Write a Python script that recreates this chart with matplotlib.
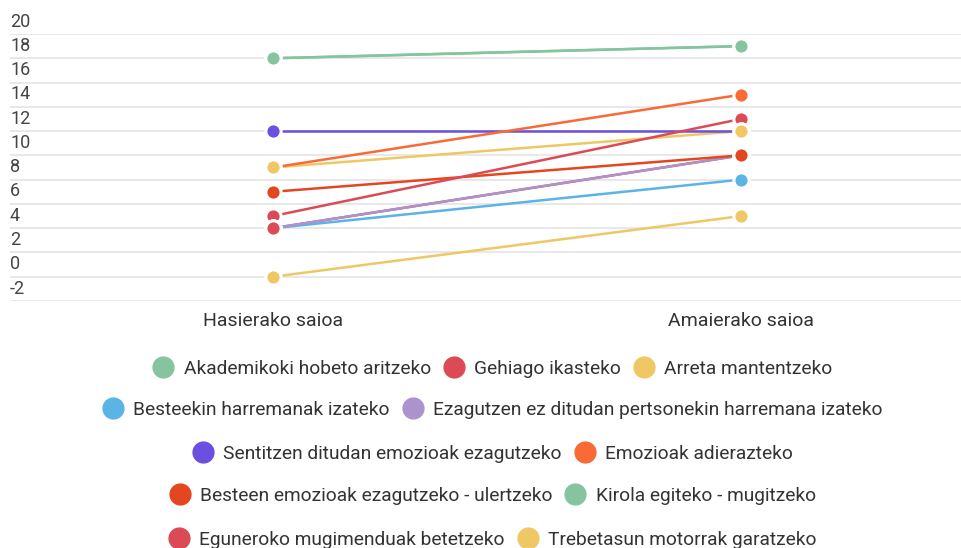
import matplotlib
matplotlib.use("Agg")
import matplotlib.pyplot as plt
from matplotlib.lines import Line2D
from matplotlib.transforms import blended_transform_factory, offset_copy

plt.rcParams['font.family'] = ['Roboto', 'DejaVu Sans']

categories = ["Hasierako saioa", "Amaierako saioa"]
series_names = [
    "Akademikoki hobeto aritzeko",
    "Gehiago ikasteko",
    "Arreta mantentzeko",
    "Besteekin harremanak izateko",
    "Ezagutzen ez ditudan pertsonekin harremana izateko",
    "Sentitzen ditudan emozioak ezagutzeko",
    "Emozioak adierazteko",
    "Besteen emozioak ezagutzeko - ulertzeko",
    "Kirola egiteko - mugitzeko",
    "Eguneroko mugimenduak betetzeko",
    "Trebetasun motorrak garatzeko",
]
start_values = [18, 4, 9, 4, 4, 12, 9, 7, 18, 5, 0]
end_values = [19, 10, 12, 8, 10, 12, 15, 10, 19, 13, 5]
colors = ["#86C4A0", "#DC4B55", "#EFC865", "#5AB4E6", "#AC93CE",
          "#6A4FE0", "#FA6A35", "#E4461F", "#86C4A0", "#DC4B55", "#EFC865"]
# drawing order of the dots (last drawn is on top)
dot_order = [10, 9, 8, 6, 5, 4, 3, 2, 1, 0, 7]
yticks = [-2, 0, 2, 4, 6, 8, 10, 12, 14, 16, 18, 20]
legend_rows = [[0, 1, 2], [3, 4], [5, 6], [7, 8], [9, 10]]

W, H = 962, 548
fig = plt.figure(figsize=(W / 100, H / 100), dpi=100)
ax = fig.add_axes([10 / W, 1 - 301 / H, 952 / W, (301 - 34) / H])

x = [0, 1]
n = len(series_names)
for i in range(n):
    ax.plot(x, [start_values[i], end_values[i]], color=colors[i], lw=1.8,
            solid_capstyle='butt', zorder=2 + i * 0.01)
for k, i in enumerate(dot_order):
    ax.plot(x, [start_values[i], end_values[i]], linestyle='none', marker='o',
            markersize=11, markerfacecolor=colors[i], markeredgecolor='white',
            markeredgewidth=2.2, zorder=5 + k * 0.01)

ax.set_xlim(-263 / 468, 1 + 221 / 468)
ax.set_ylim(-2, 20)
for y in yticks:
    ax.axhline(y, color='#e2e2e2', lw=1.1, zorder=1)
ax.set_xticks([])
ax.set_yticks([])
for s in ax.spines.values():
    s.set_visible(False)

tr = blended_transform_factory(fig.transFigure, ax.transData)
tr = offset_copy(tr, fig=fig, x=0, y=2.5, units='points')
for y in yticks:
    ax.text(10 / W, y, str(y), transform=tr, ha='left', va='bottom',
            fontsize=13, color='#444444')

for xi, c in zip(x, categories):
    ax.text(xi, -2, c, transform=offset_copy(ax.transData, fig=fig, y=-8, units='points'),
            ha='center', va='top', fontsize=14, color='#333333')

row_y = [369, 410, 454, 496, 540]
for r, idxs in enumerate(legend_rows):
    handles = [Line2D([], [], linestyle='none', marker='o', markersize=15,
                      markerfacecolor=colors[i], markeredgecolor=colors[i])
               for i in idxs]
    labels = [series_names[i] for i in idxs]
    leg = fig.legend(handles, labels, loc='center', bbox_to_anchor=(493 / W, 1 - row_y[r] / H),
                     ncol=len(idxs), frameon=False, fontsize=13.8, handlelength=1.0,
                     handletextpad=0.55, columnspacing=0.7, borderaxespad=0, borderpad=0)
    for t in leg.get_texts():
        t.set_color('#333333')

fig.savefig("out.png", dpi=100, facecolor='white')
